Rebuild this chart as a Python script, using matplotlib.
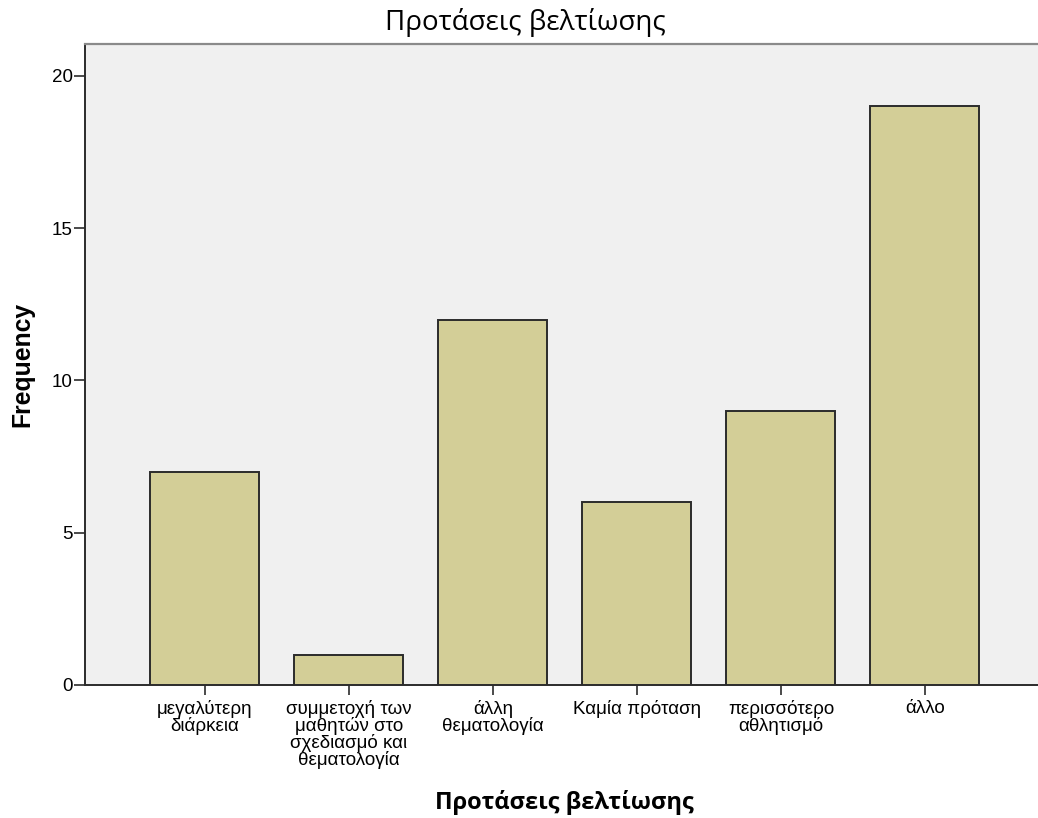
import matplotlib.pyplot as plt
import numpy as np

categories = ["μεγαλύτερη\nδιάρκεια",
              "συμμετοχή των\nμαθητών στο\nσχεδιασμό και\nθεματολογία",
              "άλλη\nθεματολογία",
              "Καμία πρόταση",
              "περισσότερο\nαθλητισμό",
              "άλλο"]
frequency = [7, 1, 12, 6, 9, 19]
yticks = [0, 5, 10, 15, 20]


def main():
    fig = plt.figure(figsize=(10.38, 8.18), dpi=100)
    ax = fig.add_axes([0.0819, 0.1626, 0.9181, 0.7836])
    ax.set_facecolor("#F0F0F0")

    x = np.arange(len(categories))
    ax.bar(x, frequency, width=0.757, color="#D3CE97",
           edgecolor="#2b2b2b", linewidth=1.4, zorder=3)

    ax.set_xlim(-0.833, 5.785)
    ax.set_ylim(0, 21.05)
    ax.set_yticks(yticks)
    ax.set_xticks(x)
    ax.set_xticklabels(categories, fontsize=13.5, family="Liberation Sans",
                       linespacing=0.93)
    for lab in ax.get_yticklabels():
        lab.set_fontsize(13.5)
        lab.set_family("Liberation Sans")
    ax.tick_params(axis="x", length=7.5, width=1.2, color="#2b2b2b", pad=3.5)
    ax.tick_params(axis="y", length=8, width=1.2, color="#2b2b2b", pad=1)

    ax.spines["right"].set_visible(False)
    ax.spines["top"].set_color("#8a8a8a")
    ax.spines["top"].set_linewidth(1.6)
    ax.spines["left"].set_color("#2b2b2b")
    ax.spines["left"].set_linewidth(1.4)
    ax.spines["bottom"].set_color("#2b2b2b")
    ax.spines["bottom"].set_linewidth(1.4)

    fig.text(0.506, 0.973, "Προτάσεις βελτίωσης", ha="center", va="center",
             fontsize=20, family="Open Sans")
    fig.text(0.544, 0.019, "Προτάσεις βελτίωσης", ha="center", va="center",
             fontsize=17, fontweight="bold", family="Open Sans")
    fig.text(0.022, 0.555, "Frequency", ha="center", va="center",
             rotation=90, fontsize=17.8, fontweight="bold", family="Liberation Sans")

    fig.savefig("out.png", dpi=100)
    plt.close()


if __name__ == "__main__":
    main()
